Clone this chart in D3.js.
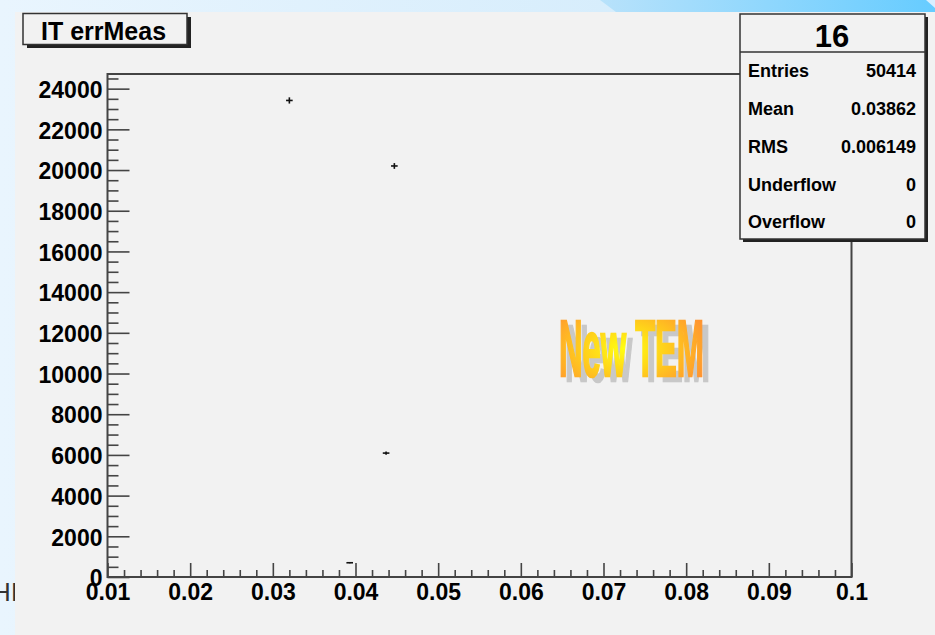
<!DOCTYPE html>
<html>
<head>
<meta charset="utf-8">
<script src="https://cdn.jsdelivr.net/npm/d3@7"></script>
<style>
  html, body { margin: 0; padding: 0; background: #f2f2f2; }
  svg { display: block; }
  text { font-family: "Liberation Sans", Arial, Helvetica, sans-serif; }
</style>
</head>
<body>
<script>
// ---- data ----
const histName = "16";
const histTitle = "IT errMeas";
const binCenters = [0.0320, 0.0393, 0.0437, 0.0447];
const binCounts = [23420, 700, 6090, 20200];
const binWidth = 0.0008;
const statLabels = ["Entries", "Mean", "RMS", "Underflow", "Overflow"];
const statValues = ["50414", "0.03862", "0.006149", "0", "0"];
const xDomain = [0.01, 0.1];
const yDomain = [0, 24720];
const xMajorTicks = [0.01, 0.02, 0.03, 0.04, 0.05, 0.06, 0.07, 0.08, 0.09, 0.1];
const xTickLabels = ["0.01", "0.02", "0.03", "0.04", "0.05", "0.06", "0.07", "0.08", "0.09", "0.1"];
const yMajorTicks = [0, 2000, 4000, 6000, 8000, 10000, 12000, 14000, 16000, 18000, 20000, 22000, 24000];
const watermark = "New TEM";

const W = 935, H = 635;
const svg = d3.select("body").append("svg").attr("width", W).attr("height", H);
const defs = svg.append("defs");

// background slide gradients
const bgGrad = defs.append("linearGradient").attr("id", "bgGrad").attr("x1", "0").attr("x2", "1").attr("y1", "0").attr("y2", "0");
bgGrad.append("stop").attr("offset", "0").attr("stop-color", "#e9f5fe");
bgGrad.append("stop").attr("offset", "1").attr("stop-color", "#cde9fb");
const bandGrad = defs.append("linearGradient").attr("id", "bandGrad").attr("x1", "0").attr("x2", "1").attr("y1", "0").attr("y2", "0");
bandGrad.append("stop").attr("offset", "0").attr("stop-color", "#b8e2fb");
bandGrad.append("stop").attr("offset", "1").attr("stop-color", "#66ccff");
svg.append("rect").attr("width", W).attr("height", H).attr("fill", "url(#bgGrad)");
svg.append("path").attr("d", "M600,0 L935,0 L935,12 L616,12 Z").attr("fill", "url(#bandGrad)");
svg.append("path").attr("d", "M926,0 L935,0 L935,8 Z").attr("fill", "#d8efff");

// text behind canvas on left
svg.append("text").attr("x", -8).attr("y", 601).attr("font-family", "Liberation Serif, serif")
  .attr("font-size", 26).attr("fill", "#333").text("HI");

// canvas
svg.append("rect").attr("x", 15).attr("y", 12).attr("width", W - 15).attr("height", H - 12).attr("fill", "#f2f2f2");

// scales
const x = d3.scaleLinear().domain(xDomain).range([107.5, 851.5]);
const y = d3.scaleLinear().domain(yDomain).range([577, 74]);

// watermark
const wmGrad = defs.append("radialGradient").attr("id", "wmGrad").attr("cx", "0.45").attr("cy", "0.5").attr("r", "0.6");
wmGrad.append("stop").attr("offset", "0").attr("stop-color", "#ffff10");
wmGrad.append("stop").attr("offset", "0.45").attr("stop-color", "#ffd21a");
wmGrad.append("stop").attr("offset", "1").attr("stop-color", "#ff9530");
const wm = svg.append("g");
wm.append("text").attr("x", 565).attr("y", 381).attr("font-size", 80).attr("font-weight", "bold")
  .attr("textLength", 145).attr("lengthAdjust", "spacingAndGlyphs")
  .attr("fill", "#c8c8c8").attr("stroke", "#c8c8c8").attr("stroke-width", 2.5).text(watermark);
wm.append("text").attr("x", 559).attr("y", 376).attr("font-size", 80).attr("font-weight", "bold")
  .attr("textLength", 145).attr("lengthAdjust", "spacingAndGlyphs")
  .attr("fill", "url(#wmGrad)").attr("stroke", "url(#wmGrad)").attr("stroke-width", 2.5).text(watermark);

// axes
const axisColor = "#444";
const gy = svg.append("g").attr("transform", `translate(${x(xDomain[0])},0)`);
const yMinor = d3.range(0, yDomain[1], 500).filter(v => v % 2000 !== 0);
gy.call(d3.axisLeft(y).tickValues(yMinor).tickSize(-11).tickSizeOuter(0).tickFormat(""));
gy.append("g").call(d3.axisLeft(y).tickValues(yMajorTicks).tickSize(-22).tickSizeOuter(0).tickPadding(5).tickFormat(d3.format("d")));
gy.selectAll("path.domain").remove();
gy.selectAll("line").attr("stroke", axisColor).attr("stroke-width", 1.6);
gy.selectAll("text").attr("font-size", 23).attr("font-weight", "bold").attr("fill", "#000").attr("dy", "0.38em");

const gx = svg.append("g").attr("transform", `translate(0,${y(0)})`);
const xMinor = d3.range(0, 45).map(i => 0.01 + i * 0.002).filter((v, i) => i % 5 !== 0);
gx.call(d3.axisBottom(x).tickValues(xMinor).tickSize(-7).tickSizeOuter(0).tickFormat(""));
gx.append("g").call(d3.axisBottom(x).tickValues(xMajorTicks).tickSize(-14).tickSizeOuter(0).tickPadding(7)
  .tickFormat((d, i) => xTickLabels[i]));
gx.selectAll("path.domain").remove();
gx.selectAll("line").attr("stroke", axisColor).attr("stroke-width", 1.6);
gx.selectAll("text").attr("font-size", 23).attr("font-weight", "bold").attr("fill", "#000");

// frame
svg.append("rect").attr("x", x(xDomain[0])).attr("y", y(yDomain[1]))
  .attr("width", x(xDomain[1]) - x(xDomain[0])).attr("height", y(0) - y(yDomain[1]))
  .attr("fill", "none").attr("stroke", axisColor).attr("stroke-width", 2);

// data points with error bars
const pts = svg.append("g").attr("stroke", "#111").attr("stroke-width", 1.6);
binCenters.forEach((c, i) => {
  const n = binCounts[i], e = Math.sqrt(n);
  pts.append("line").attr("x1", x(c - binWidth / 2)).attr("x2", x(c + binWidth / 2)).attr("y1", y(n)).attr("y2", y(n));
  pts.append("line").attr("x1", x(c)).attr("x2", x(c)).attr("y1", y(n - e)).attr("y2", y(n + e));
});

// title box
const tb = svg.append("g");
tb.append("rect").attr("x", 27).attr("y", 17).attr("width", 164).attr("height", 31).attr("fill", "#222");
tb.append("rect").attr("x", 23).attr("y", 13.5).attr("width", 164).attr("height", 31).attr("fill", "#f2f2f2")
  .attr("stroke", "#333").attr("stroke-width", 1.5);
tb.append("text").attr("x", 41).attr("y", 40).attr("font-size", 25).attr("font-weight", "bold").attr("fill", "#000").text(histTitle);

// stats box
const sb = svg.append("g");
sb.append("rect").attr("x", 743).attr("y", 17).attr("width", 185).attr("height", 225).attr("fill", "#222");
sb.append("rect").attr("x", 740).attr("y", 14).attr("width", 185).attr("height", 225).attr("fill", "#f2f2f2")
  .attr("stroke", "#333").attr("stroke-width", 1.5);
sb.append("line").attr("x1", 740).attr("x2", 925).attr("y1", 52).attr("y2", 52).attr("stroke", "#333").attr("stroke-width", 1.5);
sb.append("text").attr("x", 832).attr("y", 47).attr("text-anchor", "middle").attr("font-size", 31).attr("font-weight", "bold").text(histName);
const rowY = [77, 115, 153, 191, 228];
statLabels.forEach((l, i) => {
  sb.append("text").attr("x", 748).attr("y", rowY[i]).attr("font-size", 18).attr("font-weight", "bold").text(l);
  sb.append("text").attr("x", 916).attr("y", rowY[i]).attr("text-anchor", "end").attr("font-size", 18).attr("font-weight", "bold").text(statValues[i]);
});
</script>
</body>
</html>
